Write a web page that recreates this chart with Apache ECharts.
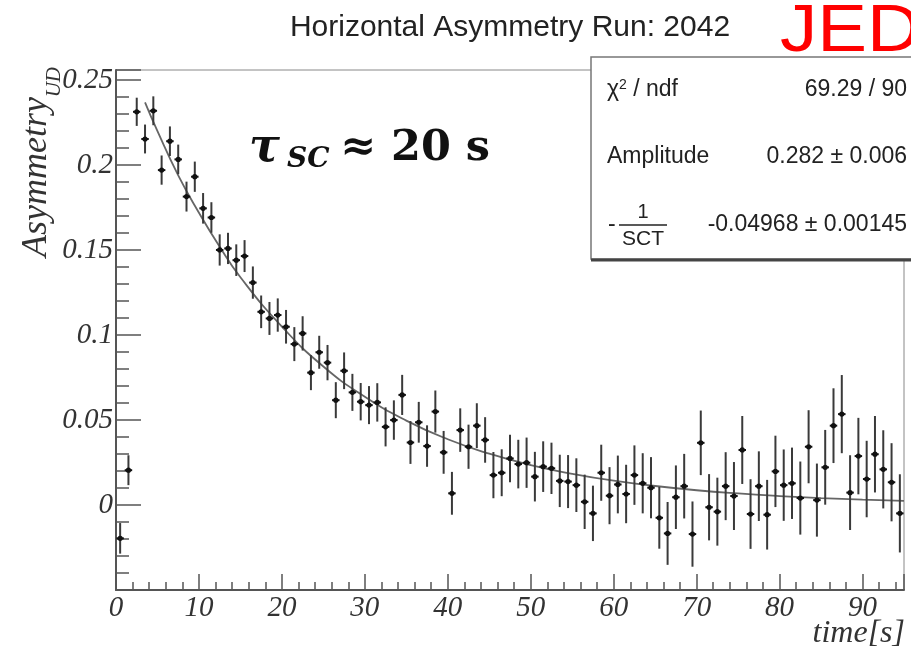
<!DOCTYPE html>
<html>
<head>
<meta charset="utf-8">
<script src="https://cdn.jsdelivr.net/npm/echarts@6/dist/echarts.min.js"></script>
<style>
  html, body { margin: 0; padding: 0; background: #fff; }
  #main { width: 911px; height: 653px; }
</style>
</head>
<body>
<div id="main"></div>
<script>
// bin centers of time [s]
const binT = [
  0.5, 1.5, 2.5, 3.5, 4.5, 5.5, 6.5, 7.5, 8.5, 9.5,
  10.5, 11.5, 12.5, 13.5, 14.5, 15.5, 16.5, 17.5, 18.5, 19.5,
  20.5, 21.5, 22.5, 23.5, 24.5, 25.5, 26.5, 27.5, 28.5, 29.5,
  30.5, 31.5, 32.5, 33.5, 34.5, 35.5, 36.5, 37.5, 38.5, 39.5,
  40.5, 41.5, 42.5, 43.5, 44.5, 45.5, 46.5, 47.5, 48.5, 49.5,
  50.5, 51.5, 52.5, 53.5, 54.5, 55.5, 56.5, 57.5, 58.5, 59.5,
  60.5, 61.5, 62.5, 63.5, 64.5, 65.5, 66.5, 67.5, 68.5, 69.5,
  70.5, 71.5, 72.5, 73.5, 74.5, 75.5, 76.5, 77.5, 78.5, 79.5,
  80.5, 81.5, 82.5, 83.5, 84.5, 85.5, 86.5, 87.5, 88.5, 89.5,
  90.5, 91.5, 92.5, 93.5, 94.5
];
// measured asymmetry per bin
const asym = [
  -0.0196, 0.0205, 0.2314, 0.2154, 0.2320, 0.1971, 0.2141, 0.2034, 0.1815, 0.1932,
  0.1746, 0.1692, 0.1501, 0.1510, 0.1441, 0.1465, 0.1309, 0.1137, 0.1098, 0.1118,
  0.1049, 0.0947, 0.1010, 0.0779, 0.0899, 0.0838, 0.0617, 0.0790, 0.0663, 0.0608,
  0.0588, 0.0604, 0.0460, 0.0500, 0.0648, 0.0368, 0.0487, 0.0347, 0.0550, 0.0310,
  0.0069, 0.0441, 0.0343, 0.0467, 0.0383, 0.0176, 0.0190, 0.0274, 0.0241, 0.0249,
  0.0167, 0.0226, 0.0216, 0.0142, 0.0138, 0.0117, 0.0019, -0.0049, 0.0190, 0.0055,
  0.0121, 0.0065, 0.0176, 0.0128, 0.0102, -0.0075, -0.0167, 0.0046, 0.0111, -0.0171,
  0.0366, -0.0013, -0.0039, 0.0111, 0.0053, 0.0324, -0.0053, 0.0111, -0.0057, 0.0198,
  0.0117, 0.0128, 0.0041, 0.0343, 0.0029, 0.0222, 0.0467, 0.0535, 0.0073, 0.0288,
  0.0153, 0.0299, 0.0210, 0.0134, -0.0049
];
// error bar half length
const asymErr = [
  0.0090, 0.0088, 0.0083, 0.0085, 0.0085, 0.0086, 0.0087, 0.0087, 0.0088, 0.0089,
  0.0090, 0.0090, 0.0092, 0.0092, 0.0093, 0.0094, 0.0095, 0.0096, 0.0097, 0.0098,
  0.0099, 0.0100, 0.0101, 0.0103, 0.0097, 0.0104, 0.0106, 0.0108, 0.0109, 0.0110,
  0.0112, 0.0113, 0.0115, 0.0116, 0.0118, 0.0126, 0.0120, 0.0122, 0.0124, 0.0126,
  0.0126, 0.0128, 0.0130, 0.0132, 0.0134, 0.0136, 0.0138, 0.0140, 0.0143, 0.0148,
  0.0146, 0.0149, 0.0151, 0.0154, 0.0156, 0.0158, 0.0160, 0.0163, 0.0165, 0.0168,
  0.0170, 0.0172, 0.0175, 0.0177, 0.0180, 0.0182, 0.0185, 0.0187, 0.0190, 0.0192,
  0.0190, 0.0195, 0.0200, 0.0200, 0.0200, 0.0200, 0.0205, 0.0205, 0.0205, 0.0210,
  0.0210, 0.0210, 0.0215, 0.0215, 0.0215, 0.0220, 0.0220, 0.0230, 0.0220, 0.0225,
  0.0225, 0.0225, 0.0230, 0.0230, 0.0230
];
// fit curve
const fitT = [3.5, 5, 7.5, 10, 12.5, 15, 20, 25, 30, 35, 40, 45, 50, 55, 60, 65, 70, 75, 80, 85, 90, 95];
const fitV = [0.237, 0.220, 0.194, 0.172, 0.152, 0.134, 0.105, 0.0815, 0.0637, 0.0497, 0.0387,
  0.0302, 0.0235, 0.0184, 0.0143, 0.0112, 0.0087, 0.0068, 0.0053, 0.0041, 0.0032, 0.0025];

const statNames = ['chi', 'Amplitude', 'frac'];
const statValues = ['69.29 / 90', '0.282 \u00b1 0.006', '-0.04968 \u00b1 0.00145'];

const serif = 'Liberation Serif';
const sans = 'Liberation Sans';

let points = binT.map((t, i) => [t, asym[i], asymErr[i]]);
let fitLine = fitT.map((t, i) => [t, fitV[i]]);

let myChart = echarts.init(document.getElementById('main'));

let statY = [90, 157];
let statGraphics = [
  {type: 'rect', z: 100, shape: {x: 591, y: 57, width: 340, height: 202},
    style: {fill: '#fff', stroke: '#777', lineWidth: 1.5}},
  {type: 'line', z: 101, shape: {x1: 591, y1: 260, x2: 911, y2: 260},
    style: {stroke: '#444', lineWidth: 3}},
  {type: 'text', z: 102, x: 607, y: statY[0],
    style: {text: '{a|\u03c7}{s|2}{a| / ndf}', verticalAlign: 'middle', fill: '#222',
      rich: {a: {fontFamily: sans, fontSize: 23, fill: '#222'},
             s: {fontFamily: sans, fontSize: 14, fill: '#222', verticalAlign: 'top', padding: [0, 0, 10, 0]}}}},
  {type: 'text', z: 102, x: 607, y: statY[1],
    style: {text: statNames[1], font: '23px ' + sans, fill: '#222', verticalAlign: 'middle'}},
  // -1/SCT fraction
  {type: 'text', z: 102, x: 608, y: 225,
    style: {text: '-', font: '23px ' + sans, fill: '#222', verticalAlign: 'middle'}},
  {type: 'text', z: 102, x: 643, y: 212,
    style: {text: '1', font: '20px ' + sans, fill: '#222', align: 'center', verticalAlign: 'middle'}},
  {type: 'line', z: 102, shape: {x1: 619, y1: 225, x2: 667, y2: 225},
    style: {stroke: '#222', lineWidth: 1.5}},
  {type: 'text', z: 102, x: 643, y: 239,
    style: {text: 'SCT', font: '21px ' + sans, fill: '#222', align: 'center', verticalAlign: 'middle'}}
];
[statY[0], statY[1], 225].forEach((y, i) => {
  statGraphics.push({type: 'text', z: 102, x: 907, y: y,
    style: {text: statValues[i], font: '23px ' + sans, fill: '#222', align: 'right', verticalAlign: 'middle'}});
});

let option = {
  animation: false,
  grid: {left: 116, right: 7, top: 70, bottom: 63, show: true, borderColor: '#888', borderWidth: 1},
  xAxis: {
    type: 'value', min: 0, max: 95, interval: 10,
    axisLine: {show: true, onZero: false, lineStyle: {color: '#555', width: 2}},
    axisTick: {inside: true, length: 16, lineStyle: {color: '#555', width: 1.5}},
    minorTick: {show: true, splitNumber: 5, length: 8, lineStyle: {color: '#555', width: 1.5}},
    splitLine: {show: false},
    axisLabel: {showMaxLabel: false, color: '#333', fontFamily: serif, fontStyle: 'italic', fontSize: 29, margin: 4}
  },
  yAxis: {
    type: 'value', min: -0.05, max: 0.256, interval: 0.05,
    axisLine: {show: true, onZero: false, lineStyle: {color: '#555', width: 2}},
    axisTick: {inside: true, length: 25, lineStyle: {color: '#555', width: 1.5}},
    minorTick: {show: true, splitNumber: 5, length: 13, lineStyle: {color: '#555', width: 1.5}},
    splitLine: {show: false},
    axisLabel: {
      color: '#333', fontFamily: serif, fontStyle: 'italic', fontSize: 29, margin: 3,
      formatter: function (v) {
        if (v < -0.001 || v > 0.251) return '';
        return String(+v.toFixed(2));
      }
    }
  },
  series: [
    {
      type: 'line', data: fitLine, smooth: true, showSymbol: false, z: 2,
      lineStyle: {color: '#666', width: 1.8}
    },
    {
      type: 'custom', data: points, z: 3,
      renderItem: function (params, api) {
        let t = api.value(0), v = api.value(1), e = api.value(2);
        let top = api.coord([t, v + e]);
        let bot = api.coord([t, v - e]);
        let l = api.coord([t - 0.45, v]);
        let r = api.coord([t + 0.45, v]);
        let c = api.coord([t, v]);
        return {
          type: 'group',
          children: [
            {type: 'line', shape: {x1: top[0], y1: top[1], x2: bot[0], y2: bot[1]}, style: {stroke: '#3a3a3a', lineWidth: 2}},
            {type: 'line', shape: {x1: l[0], y1: l[1], x2: r[0], y2: r[1]}, style: {stroke: '#111', lineWidth: 2}},
            {type: 'circle', shape: {cx: c[0], cy: c[1], r: 2.6}, style: {fill: '#111'}}
          ]
        };
      }
    }
  ],
  graphic: [
    {type: 'text', x: 510, y: 28,
      style: {text: 'Horizontal Asymmetry Run: 2042', font: '30px ' + sans, fill: '#222', align: 'center', verticalAlign: 'middle'}},
    {type: 'text', x: 780, y: 33, z: 120, scaleX: 1.13,
      style: {text: 'JED', font: '66px ' + sans, fill: '#ff0000', verticalAlign: 'middle'}},
    // tau annotation
    {type: 'text', x: 249, y: 149,
      style: {text: '\u03c4', font: 'italic bold 46px DejaVu Serif', fill: '#111', verticalAlign: 'middle'}},
    {type: 'text', x: 287, y: 160,
      style: {text: 'SC', font: 'italic bold 28px DejaVu Serif', fill: '#111', verticalAlign: 'middle'}},
    {type: 'text', x: 340, y: 149,
      style: {text: '\u2248 20 s', font: 'bold 43px DejaVu Serif', fill: '#111', verticalAlign: 'middle'}},
    // axis names
    {type: 'text', x: 37, y: 97, rotation: Math.PI / 2,
      style: {text: 'Asymmetry', font: 'italic 36px ' + serif, fill: '#333', align: 'right', verticalAlign: 'middle'}},
    {type: 'text', x: 54, y: 67, rotation: Math.PI / 2,
      style: {text: 'UD', font: 'italic 21px ' + serif, fill: '#333', align: 'right', verticalAlign: 'middle'}},
    {type: 'text', x: 905, y: 634,
      style: {text: 'time[s]', font: 'italic 32px ' + serif, fill: '#333', align: 'right', verticalAlign: 'middle'}}
  ].concat(statGraphics)
};

myChart.setOption(option);
</script>
</body>
</html>
